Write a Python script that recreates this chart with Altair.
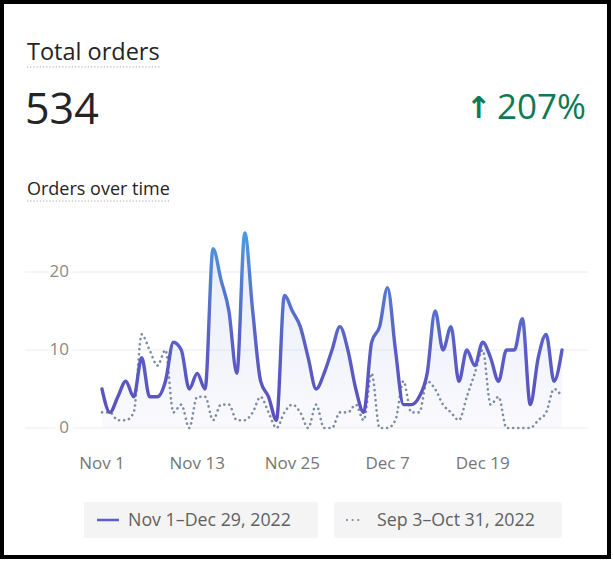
import altair as alt
import pandas as pd

# ---- data ----
day_index = list(range(59))  # Nov 1 .. Dec 29, 2022 (and Sep 3 .. Oct 31 for comparison)
current_orders = [5, 2, 4, 6, 4, 9, 4, 4, 6, 11,
                  10, 5, 7, 5, 23, 19, 15, 7, 25, 15,
                  6, 4, 1, 17, 15, 13, 9, 5, 7, 10,
                  13, 10, 5, 2, 11, 13, 18, 10, 3, 3,
                  4, 7, 15, 10, 13, 6, 10, 8, 11, 9,
                  6, 10, 10, 14, 3, 9, 12, 6, 10]
previous_orders = [2, 2, 1, 1, 2, 12, 10, 8, 10, 2,
                   3, 0, 4, 4, 1, 3, 3, 1, 1, 2,
                   4, 2, 0, 2, 3, 2, 0, 3, 0, 0,
                   2, 2, 3, 1, 7, 0, 0, 1, 6, 2,
                   2, 6, 5, 3, 2, 1, 4, 7, 10, 3,
                   4, 0, 0, 0, 0, 1, 2, 5, 4]
tick_days = [0, 12, 24, 36, 48]
tick_labels = ["Nov 1", "Nov 13", "Nov 25", "Dec 7", "Dec 19"]
y_ticks = [0, 10, 20]
series_labels = ["Nov 1\u2013Dec 29, 2022", "Sep 3\u2013Oct 31, 2022"]
kpi_title = "Total orders"
kpi_value = "534"
kpi_arrow = "\u2191"
kpi_change = "207%"
chart_title = "Orders over time"

FONT = "Open Sans"
W, H = 613, 561

df = pd.DataFrame({"day": day_index, "current": current_orders, "previous": previous_orders})
ticks_df = pd.DataFrame({"day": tick_days, "label": tick_labels})
ygrid_df = pd.DataFrame({"v": y_ticks, "label": [str(v) for v in y_ticks]})
one = pd.DataFrame({"a": [0]})

xs = alt.Scale(domain=[0, 58], range=[102, 562], nice=False, zero=False)
ys = alt.Scale(domain=[0, 20], range=[428, 272], nice=False, zero=False)

border = alt.Chart(one).mark_rect(fill="white", stroke="black", strokeWidth=4).encode(
    x=alt.value(2), x2=alt.value(609), y=alt.value(2), y2=alt.value(557))

grid = alt.Chart(ygrid_df).mark_rule(color="#ececec", strokeWidth=1).encode(
    x=alt.value(25), x2=alt.value(588), y=alt.Y("v:Q", scale=ys, axis=None))

ylab_halo = alt.Chart(ygrid_df).mark_text(
    align="right", baseline="middle", font=FONT, fontSize=17,
    fill="white", stroke="white", strokeWidth=9).encode(
    x=alt.value(69), y=alt.Y("v:Q", scale=ys, axis=None), text="label:N")
ylab = alt.Chart(ygrid_df).mark_text(
    align="right", baseline="middle", font=FONT, fontSize=17, color="#8a8a8a").encode(
    x=alt.value(69), y=alt.Y("v:Q", scale=ys, axis=None), text="label:N")

area = alt.Chart(df).mark_area(
    interpolate="monotone",
    fill=alt.Gradient(gradient="linear",
                      stops=[alt.GradientStop(color="rgba(80,140,220,0.14)", offset=0),
                             alt.GradientStop(color="rgba(91,95,199,0.03)", offset=1)],
                      x1=0, x2=0, y1=0, y2=1)).encode(
    x=alt.X("day:Q", scale=xs, axis=None),
    y=alt.Y("current:Q", scale=ys, axis=None),
    y2=alt.datum(0))

prev_line = alt.Chart(df).mark_line(
    interpolate="monotone", color="#7d8da3", strokeWidth=2.6,
    strokeDash=[0.1, 5], strokeCap="round").encode(
    x=alt.X("day:Q", scale=xs, axis=None),
    y=alt.Y("previous:Q", scale=ys, axis=None))

cur_line = alt.Chart(df).mark_line(
    interpolate="monotone", strokeWidth=3.4, strokeCap="round", strokeJoin="round",
    stroke=alt.Gradient(gradient="linear",
                        stops=[alt.GradientStop(color="#4a9be0", offset=0),
                               alt.GradientStop(color="#5578d0", offset=0.3),
                               alt.GradientStop(color="#5a5fc6", offset=0.6),
                               alt.GradientStop(color="#5b4fbe", offset=1)],
                        x1=0, x2=0, y1=0, y2=1)).encode(
    x=alt.X("day:Q", scale=xs, axis=None),
    y=alt.Y("current:Q", scale=ys, axis=None))

xlab = alt.Chart(ticks_df).mark_text(
    align="center", baseline="middle", font=FONT, fontSize=17, color="#767676").encode(
    x=alt.X("day:Q", scale=xs, axis=None), y=alt.value(464), text="label:N")

def txt(s, x, y, size, color="#242424", align="left", weight="normal", font=FONT):
    return alt.Chart(one).mark_text(
        align=align, baseline="alphabetic", font=font, fontSize=size,
        color=color, fontWeight=weight).encode(
        x=alt.value(x), y=alt.value(y), text=alt.value(s))

def dotted(x1, x2, y):
    return alt.Chart(one).mark_rule(color="#a8a8a8", strokeWidth=1.2, strokeDash=[1.2, 2]).encode(
        x=alt.value(x1), x2=alt.value(x2), y=alt.value(y))

t1 = txt(kpi_title, 27, 60, 23.5)
u1 = dotted(27, 160, 67)
t2 = txt(kpi_value, 25, 124, 43, weight=500)
t3a = txt(kpi_arrow, 466, 118, 30, color="#0e7a55", weight="bold", font="DejaVu Sans")
t3 = txt(kpi_change, 586, 119, 35, color="#0e7a55", align="right", weight=500)
t4 = txt(chart_title, 27, 195, 18)
u2 = dotted(27, 170, 201)

box1 = alt.Chart(one).mark_rect(fill="#f4f4f5", cornerRadius=2).encode(
    x=alt.value(84), x2=alt.value(318), y=alt.value(502), y2=alt.value(538))
box2 = alt.Chart(one).mark_rect(fill="#f4f4f5", cornerRadius=2).encode(
    x=alt.value(334), x2=alt.value(562), y=alt.value(502), y2=alt.value(538))
sw1 = alt.Chart(one).mark_rule(color="#5b5fc7", strokeWidth=2.5).encode(
    x=alt.value(97), x2=alt.value(119), y=alt.value(520))
sw2 = alt.Chart(one).mark_rule(color="#7d8da3", strokeWidth=2.2, strokeDash=[0.1, 5.5],
                               strokeCap="round").encode(
    x=alt.value(347), x2=alt.value(363), y=alt.value(520))
l1 = txt(series_labels[0], 128, 526, 17.8, color="#616161")
l2 = txt(series_labels[1], 377, 526, 17.8, color="#616161")

chart = alt.layer(
    border, grid, ylab_halo, ylab, area, prev_line, cur_line, xlab,
    t1, u1, t2, t3a, t3, t4, u2, box1, box2, sw1, sw2, l1, l2
).properties(
    width=W, height=H, padding=0,
    autosize=alt.AutoSizeParams(type="none"),
    background="white"
).configure_view(stroke=None)

chart.save("out.html", embed_options={"renderer": "svg", "actions": False})
